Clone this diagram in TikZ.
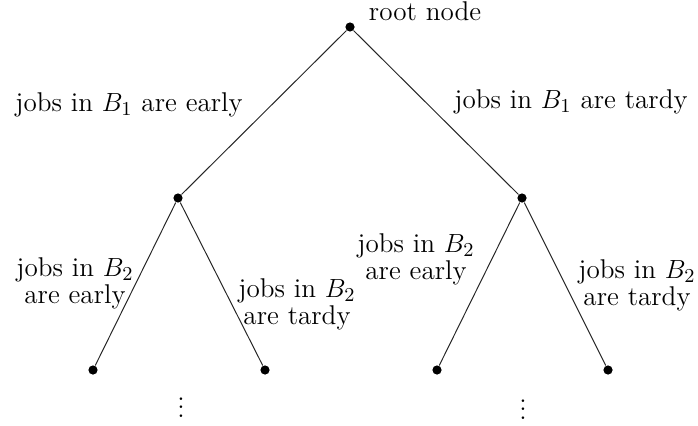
\documentclass[tikz,border=0pt]{standalone}
\begin{document}
\begin{tikzpicture}[x=0.457pt,y=-0.457pt,
  vert/.style={circle,fill=black,inner sep=0pt,minimum size=4.2pt},
  lbl/.style={align=center,inner sep=0pt,font=\fontsize{12.4}{12.4}\selectfont},
  edge/.style={draw=black!85,line width=0.45pt}]
\useasboundingbox (0,0) rectangle (698,425);
\node[vert] (r) at (350,27) {};
\node[vert] (a) at (178,198) {};
\node[vert] (b) at (522,198) {};
\node[vert] (a1) at (93,370) {};
\node[vert] (a2) at (265,370) {};
\node[vert] (b1) at (437,370) {};
\node[vert] (b2) at (608,370) {};
\draw[edge] (r) -- (a);
\draw[edge] (r) -- (b);
\draw[edge] (a) -- (a1);
\draw[edge] (a) -- (a2);
\draw[edge] (b) -- (b1);
\draw[edge] (b) -- (b2);
\node[lbl] (rl) at (425,11) {root node};
\node[lbl] (l1) at (129,105) {jobs in $B_1$ are early};
\node[lbl] (l2) at (571,102) {jobs in $B_1$ are tardy};
\node[lbl] (l3) at (75,283) {jobs in $B_2$\\are early};
\node[lbl] (l4) at (297,304) {jobs in $B_2$\\are tardy};
\node[lbl] (l5) at (416,259) {jobs in $B_2$\\are early};
\node[lbl] (l6) at (637,285) {jobs in $B_2$\\are tardy};
\node[lbl] (d1) at (181,401) {$\vdots$};
\node[lbl] (d2) at (523,403) {$\vdots$};
\end{tikzpicture}
\end{document}
